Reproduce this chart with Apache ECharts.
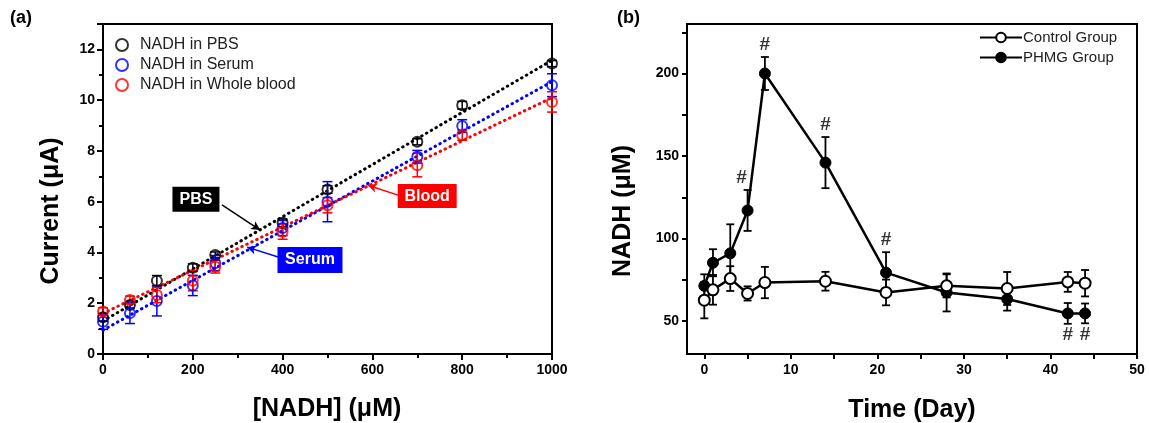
<!DOCTYPE html>
<html><head><meta charset="utf-8">
<script src="https://cdn.jsdelivr.net/npm/echarts@6/dist/echarts.min.js"></script>
<style>html,body{margin:0;padding:0;background:#fff}#c{width:1149px;height:423px}</style>
</head><body><div id="c"></div>
<script>
// ---------- Panel (a) data ----------
const concX = [0, 60, 120, 200, 250, 400, 500, 700, 800, 1000];
const pbsY   = [1.45, 1.93, 2.89, 3.40, 3.90, 5.17, 6.48, 8.36, 9.80, 11.44];
const pbsErr = [0.15, 0.12, 0.2, 0.15, 0.12, 0.15, 0.15, 0.12, 0.15, 0.12];
const serumY   = [1.27, 1.61, 2.09, 2.70, 3.58, 4.96, 6.00, 7.77, 8.98, 10.59];
const serumErr = [0.30, 0.41, 0.59, 0.40, 0.30, 0.30, 0.79, 0.25, 0.25, 0.45];
const bloodY   = [1.67, 2.13, 2.32, 2.89, 3.44, 4.82, 5.86, 7.44, 8.62, 9.93];
const bloodErr = [0.15, 0.15, 0.30, 0.40, 0.25, 0.30, 0.30, 0.46, 0.20, 0.40];
const fitX = [0, 1000];
const pbsFit = [1.30, 11.57];
const serumFit = [0.94, 10.73];
const bloodFit = [1.60, 10.10];

// ---------- Panel (b) data ----------
const days = [0, 1, 3, 5, 7, 14, 21, 28, 35, 42, 44];
const ctrlY   = [62.6, 68.9, 75.7, 66.7, 73.3, 74.1, 67.3, 71.3, 69.7, 73.7, 72.9];
const ctrlErr = [11, 9, 7.5, 4.3, 9.5, 5.7, 7.8, 7, 10, 6, 8];
const phmgY   = [71.3, 85.3, 91.0, 117.0, 200.0, 146.0, 79.3, 67.3, 63.3, 54.6, 54.6];
const phmgErr = [7, 8.2, 17.6, 12.4, 10, 15.5, 12.4, 11.5, 7, 6.3, 6];
const sigAbove = [5, 7, 14, 21];
const sigBelow = [42, 44];
const xLabelsB = [0, 10, 20, 30, 40, 50];
const xTicksB = [0, 5, 10, 15, 20, 25, 30, 35, 40, 45, 50];
const yLabelsB = [50, 100, 150, 200];
const yTicksB = [50, 75, 100, 125, 150, 175, 200, 225];

const FONT = '"Liberation Sans", Arial, sans-serif';

function pairs(xs, ys) { return xs.map((x, i) => [x, ys[i]]); }
function errs(xs, ys, es) { return xs.map((x, i) => [x, ys[i] - es[i], ys[i] + es[i]]); }

function errRender(capHalf, color, lw) {
  return function (params, api) {
    const x = api.value(0), lo = api.value(1), hi = api.value(2);
    const p1 = api.coord([x, lo]), p2 = api.coord([x, hi]);
    const st = { stroke: color, lineWidth: lw };
    return { type: 'group', children: [
      { type: 'line', shape: { x1: p1[0], y1: p1[1], x2: p2[0], y2: p2[1] }, style: st },
      { type: 'line', shape: { x1: p1[0] - capHalf, y1: p1[1], x2: p1[0] + capHalf, y2: p1[1] }, style: st },
      { type: 'line', shape: { x1: p2[0] - capHalf, y1: p2[1], x2: p2[0] + capHalf, y2: p2[1] }, style: st }
    ]};
  };
}

const axisLineStyle = { show: true, onZero: false, lineStyle: { color: '#000', width: 2 } };
const tickLabelA = { color: '#000', fontFamily: FONT, fontWeight: 'bold', fontSize: 14 };

// annotations (panel a) in data coordinates
const annots = [
  { text: 'PBS', color: '#000', box: [207, 6.1], size: [47, 25], from: [265, 5.87], to: [350, 4.88] },
  { text: 'Serum', color: '#0000ff', box: [461, 3.70], size: [65, 26], from: [390, 3.82], to: [321, 4.21] },
  { text: 'Blood', color: '#ff0000', box: [722, 6.22], size: [59, 24], from: [657, 6.26], to: [590, 6.65] }
];

const series = [];
[[pbsFit, '#000'], [serumFit, '#0000ff'], [bloodFit, '#ff0000']].forEach(([f, c]) => {
  series.push({ type: 'line', xAxisIndex: 0, yAxisIndex: 0, data: pairs(fitX, f), showSymbol: false, silent: true,
    lineStyle: { color: c, width: 3, type: [0.5, 5], cap: 'round' }, z: 2 });
});
[[pbsY, pbsErr, '#000'], [serumY, serumErr, '#0000ff'], [bloodY, bloodErr, '#ff0000']].forEach(([y, e, c]) => {
  series.push({ type: 'custom', xAxisIndex: 0, yAxisIndex: 0, data: errs(concX, y, e), renderItem: errRender(5, c, 1.5),
    encode: { x: 0, y: [1, 2] }, z: 3, silent: true });
});
[['NADH in PBS', pbsY, '#000'], ['NADH in Serum', serumY, '#0000ff'], ['NADH in Whole blood', bloodY, '#ff0000']].forEach(([n, y, c]) => {
  series.push({ name: n, type: 'scatter', xAxisIndex: 0, yAxisIndex: 0, data: pairs(concX, y), symbol: 'circle', symbolSize: 10,
    itemStyle: { color: 'rgba(255,255,255,0)', borderColor: c, borderWidth: 2 }, z: 4 });
});
series.push({
  type: 'scatter', xAxisIndex: 0, yAxisIndex: 0, data: [], silent: true,
  markLine: { silent: true, symbol: ['none', 'arrow'], symbolSize: [7, 9], label: { show: false },
    data: annots.map(a => [{ coord: a.from, lineStyle: { color: a.color, width: 1.5, type: 'solid' } }, { coord: a.to }]) },
  markPoint: { silent: true, data: annots.map(a => ({ coord: a.box, symbol: 'rect', symbolSize: a.size,
    itemStyle: { color: a.color }, label: { show: true, formatter: a.text, color: '#fff', fontFamily: FONT, fontWeight: 'bold', fontSize: 16 } })) }
});

series.push({ type: 'custom', xAxisIndex: 1, yAxisIndex: 1, data: errs(days, ctrlY, ctrlErr), renderItem: errRender(4, '#000', 1.8), encode: { x: 0, y: [1, 2] }, z: 3, silent: true });
series.push({ type: 'custom', xAxisIndex: 1, yAxisIndex: 1, data: errs(days, phmgY, phmgErr), renderItem: errRender(4, '#000', 1.8), encode: { x: 0, y: [1, 2] }, z: 3, silent: true });
series.push({ name: 'Control Group', type: 'line', xAxisIndex: 1, yAxisIndex: 1, data: pairs(days, ctrlY), symbol: 'circle', symbolSize: 11, showSymbol: true,
  lineStyle: { color: '#000', width: 2.5 }, itemStyle: { color: '#fff', borderColor: '#000', borderWidth: 2 }, z: 5 });
series.push({ name: 'PHMG Group', type: 'line', xAxisIndex: 1, yAxisIndex: 1, data: pairs(days, phmgY), symbol: 'circle', symbolSize: 11, showSymbol: true,
  lineStyle: { color: '#000', width: 2.5 }, itemStyle: { color: '#000', borderColor: '#000', borderWidth: 1 }, z: 4 });
const sigLabel = { show: true, formatter: '#', color: '#000', fontFamily: FONT, fontWeight: 'bold', fontSize: 19 };
series.push({ type: 'scatter', xAxisIndex: 1, yAxisIndex: 1, symbol: 'circle', symbolSize: 1, silent: true,
  itemStyle: { color: 'rgba(0,0,0,0)' }, z: 6,
  data: sigAbove.map(d => { const i = days.indexOf(d);
    const item = { value: [d, phmgY[i] + phmgErr[i]] };
    if (d === 5) item.label = { offset: [-6, 0] };
    return item; }),
  label: Object.assign({ position: 'top', distance: 2 }, sigLabel) });
series.push({ type: 'scatter', xAxisIndex: 1, yAxisIndex: 1, symbol: 'circle', symbolSize: 1, silent: true,
  itemStyle: { color: 'rgba(0,0,0,0)' }, z: 6,
  data: sigBelow.map(d => { const i = days.indexOf(d); return [d, phmgY[i] - phmgErr[i]]; }),
  label: Object.assign({ position: 'bottom', distance: 1 }, sigLabel) });

const titleFont = 'bold 25px ' + FONT;
const option = {
  animation: false,
  backgroundColor: '#fff',
  textStyle: { fontFamily: FONT },
  graphic: [
    { type: 'text', left: 10, top: 9, style: { text: '(a)', font: 'bold 18px ' + FONT, fill: '#000' } },
    { type: 'text', left: 617, top: 9, style: { text: '(b)', font: 'bold 18px ' + FONT, fill: '#000' } },
    { type: 'text', x: 51, y: 211, rotation: Math.PI / 2, style: { text: 'Current (μA)', font: titleFont, fill: '#000', align: 'center', verticalAlign: 'middle' } },
    { type: 'text', x: 327, y: 409, style: { text: '[NADH] (μM)', font: titleFont, fill: '#000', align: 'center', verticalAlign: 'middle' } },
    { type: 'text', x: 623, y: 211, rotation: Math.PI / 2, style: { text: 'NADH (μM)', font: titleFont, fill: '#000', align: 'center', verticalAlign: 'middle' } },
    { type: 'text', x: 912, y: 410, style: { text: 'Time (Day)', font: titleFont, fill: '#000', align: 'center', verticalAlign: 'middle' } }
  ],
  legend: [
    { left: 110, top: 32, orient: 'vertical', itemGap: 4, itemWidth: 26, itemHeight: 12,
      data: ['NADH in PBS', 'NADH in Serum', 'NADH in Whole blood'],
      textStyle: { fontFamily: FONT, fontSize: 16, color: '#222' } },
    { left: 974, top: 25, orient: 'vertical', itemGap: 5, itemWidth: 42, itemHeight: 12,
      data: ['Control Group', 'PHMG Group'],
      textStyle: { fontFamily: FONT, fontSize: 15, color: '#222', padding: [0, 0, 0, -4] } }
  ],
  grid: [
    { left: 103, right: 597, top: 24, bottom: 69, show: true, borderColor: '#000', borderWidth: 2, backgroundColor: 'transparent' },
    { left: 687, right: 12, top: 24, bottom: 69, show: true, borderColor: '#000', borderWidth: 2, backgroundColor: 'transparent' }
  ],
  xAxis: [
    { gridIndex: 0, type: 'value', min: 0, max: 1000, interval: 200, axisLine: axisLineStyle,
      axisTick: { show: true, inside: false, length: 6, lineStyle: { color: '#000', width: 2 } },
      minorTick: { show: true, splitNumber: 2, length: 4, lineStyle: { color: '#000', width: 2 } },
      splitLine: { show: false }, axisLabel: Object.assign({ margin: 9, formatter: v => String(v) }, tickLabelA) },
    { gridIndex: 1, type: 'value', min: -2, max: 50, axisLine: axisLineStyle,
      axisTick: { show: true, length: 5, customValues: xTicksB, lineStyle: { color: '#000', width: 2 } },
      splitLine: { show: false }, axisLabel: Object.assign({ margin: 9, customValues: xLabelsB }, tickLabelA) }
  ],
  yAxis: [
    { gridIndex: 0, type: 'value', min: 0, max: 13, interval: 2, axisLine: axisLineStyle,
      axisTick: { show: true, length: 6, lineStyle: { color: '#000', width: 2 } },
      minorTick: { show: true, splitNumber: 2, length: 4, lineStyle: { color: '#000', width: 2 } },
      splitLine: { show: false }, axisLabel: Object.assign({ margin: 8, showMaxLabel: false, formatter: v => (v > 12 ? '' : String(v)) }, tickLabelA) },
    { gridIndex: 1, type: 'value', min: 30, max: 230, axisLine: axisLineStyle,
      axisTick: { show: true, length: 5, customValues: yTicksB, lineStyle: { color: '#000', width: 2 } },
      splitLine: { show: false }, axisLabel: Object.assign({ margin: 8, customValues: yLabelsB }, tickLabelA) }
  ],
  series: series
};

const chart = echarts.init(document.getElementById('c'), null, { renderer: 'canvas' });
chart.setOption(option);
</script></body></html>
